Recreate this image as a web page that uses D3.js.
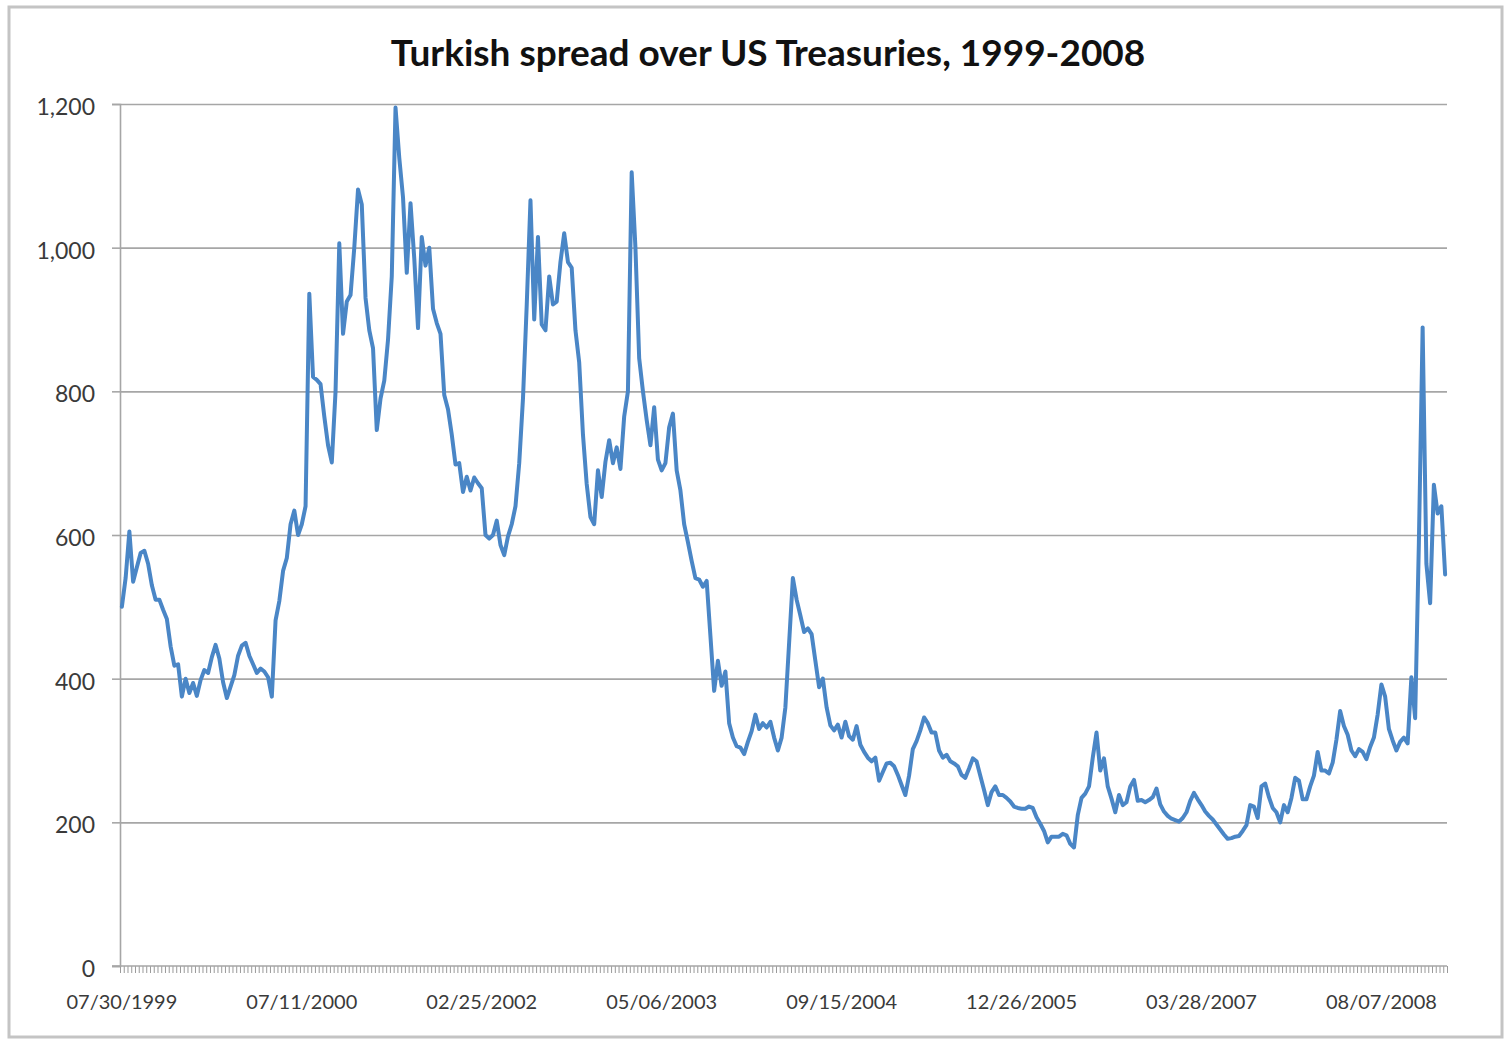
<!DOCTYPE html>
<html>
<head>
<meta charset="utf-8">
<script src="https://cdnjs.cloudflare.com/ajax/libs/d3/7.8.5/d3.min.js"></script>
<style>
  html, body { margin: 0; padding: 0; background: #ffffff; }
  svg { display: block; }
</style>
</head>
<body>
<svg id="chart" width="1512" height="1040"></svg>
<script>
// Chart title
const chartTitle = "Turkish spread over US Treasuries, 1999-2008";

// Category-axis labels, one every `labelEvery` observations
const dateLabels = ["07/30/1999", "07/11/2000", "02/25/2002", "05/06/2003",
                    "09/15/2004", "12/26/2005", "03/28/2007", "08/07/2008"];
const labelEvery = 48;

// Y-axis ticks (basis points)
const yTicks = [0, 200, 400, 600, 800, 1000, 1200];

// Spread over US Treasuries, basis points, in observation order
const spread = [
  500, 540, 605, 535, 555, 575, 578, 560, 530, 510,
  510, 496, 483, 445, 418, 420, 375, 400, 380, 394,
  376, 398, 412, 408, 430, 447, 428, 395, 373, 389,
  405, 432, 446, 450, 432, 420, 408, 414, 410, 402,
  375, 481, 508, 550, 568, 615, 634, 600, 615, 640,
  936, 820, 816, 810, 765, 725, 701, 800, 1006, 880,
  925, 934, 1000, 1081, 1060, 930, 885, 860, 746, 790,
  815, 872, 960, 1195, 1125, 1070, 965, 1062, 985, 888,
  1015, 975, 1000, 915, 895, 880, 795, 775, 740, 698,
  700, 660, 681, 662, 680, 672, 665, 600, 595, 600,
  620, 586, 572, 598, 615, 640, 700, 790, 920, 1066,
  900, 1015, 893, 885, 960, 921, 925, 980, 1020, 980,
  972, 885, 840, 740, 671, 625, 615, 690, 653, 702,
  732, 700, 722, 692, 765, 800, 1105, 1000, 846, 800,
  760, 725, 778, 705, 690, 700, 750, 769, 690, 662,
  615, 590, 564, 540, 538, 528, 536, 460, 383, 425,
  390, 410, 338, 318, 306, 304, 295, 312, 327, 350,
  330, 338, 332, 340, 318, 300, 318, 360, 450, 540,
  510, 488, 465, 470, 462, 425, 388, 400, 360, 335,
  328, 336, 318, 340, 320, 315, 334, 308, 298, 290,
  285, 290, 258, 270, 282, 283, 278, 266, 252, 238,
  265, 302, 313, 328, 346, 338, 325, 325, 300, 290,
  294, 285, 282, 278, 266, 262, 275, 289, 285, 265,
  245, 224, 242, 250, 238, 238, 234, 229, 222, 220,
  219, 219, 222, 220, 207, 198, 188, 172, 180, 180,
  180, 184, 182, 170, 165, 210, 234, 240, 250, 290,
  325, 272, 289, 250, 233, 214, 238, 224, 228, 250,
  259, 230, 231, 228, 231, 235, 247, 225, 215, 209,
  205, 203, 201, 206, 214, 230, 241, 232, 224, 215,
  209, 204, 197, 190, 183, 177, 178, 180, 181, 188,
  196, 224, 222, 206, 250, 254, 235, 220, 214, 200,
  224, 214, 234, 262, 258, 232, 232, 250, 265, 298,
  272, 272, 268, 283, 315, 355, 334, 322, 300, 292,
  302, 298, 288, 305, 318, 350, 392, 375, 330, 314,
  300, 312, 318, 310, 402, 345, 590, 889, 560, 505,
  670, 630, 640, 545
];

const svg = d3.select("#chart");
const plot = { left: 120, right: 1447, top: 104, bottom: 966 };
const font = "Lato, 'Open Sans', sans-serif";
const textColor = "#3a3a3a";
const gridColor = "#a6a6a6";

// Outer chart frame
svg.append("rect")
  .attr("x", 9).attr("y", 7)
  .attr("width", 1493).attr("height", 1030)
  .attr("fill", "#ffffff")
  .attr("stroke", "#c4c4c4")
  .attr("stroke-width", 3);

// Title
svg.append("text")
  .attr("x", 768).attr("y", 66)
  .attr("text-anchor", "middle")
  .attr("font-family", font)
  .attr("font-weight", 700)
  .attr("font-size", 37)
  .attr("fill", "#111111")
  .text(chartTitle);

// Scales
const n = spread.length;
const x = d3.scaleBand()
  .domain(d3.range(n))
  .range([plot.left, plot.right])
  .paddingInner(0).paddingOuter(0);
const xEdge = d3.scaleLinear().domain([0, n]).range([plot.left, plot.right]);
const y = d3.scaleLinear().domain([0, 1200]).range([plot.bottom, plot.top]);

// Horizontal gridlines
svg.append("g")
  .attr("class", "grid")
  .attr("transform", `translate(${plot.left},0)`)
  .call(d3.axisLeft(y).tickValues(yTicks.filter(v => v > 0))
    .tickSize(-(plot.right - plot.left)).tickFormat(""))
  .call(g => g.select(".domain").remove())
  .call(g => g.selectAll("line").attr("stroke", gridColor).attr("stroke-width", 1.6));

// Y axis with labels
svg.append("g")
  .attr("transform", `translate(${plot.left},0)`)
  .call(d3.axisLeft(y).tickValues(yTicks).tickSize(8).tickPadding(17)
    .tickFormat(d3.format(",")))
  .call(g => g.select(".domain").attr("stroke", gridColor).attr("stroke-width", 1.6))
  .call(g => g.selectAll("line").attr("stroke", gridColor).attr("stroke-width", 1.6))
  .call(g => g.selectAll("text")
    .attr("font-family", font).attr("font-size", 23).attr("fill", textColor)
    .attr("dy", "0.45em"));

// X axis: minor tick at every category boundary
svg.append("g")
  .attr("transform", `translate(0,${plot.bottom})`)
  .call(d3.axisBottom(xEdge).tickValues(d3.range(0, n + 1)).tickSize(7).tickFormat(""))
  .call(g => g.select(".domain").remove())
  .call(g => g.selectAll("line").attr("stroke", "#9a9a9a").attr("stroke-width", 1));

// X axis line
svg.append("line")
  .attr("x1", plot.left - 8).attr("x2", plot.right)
  .attr("y1", plot.bottom).attr("y2", plot.bottom)
  .attr("stroke", gridColor).attr("stroke-width", 1.6);

// X axis date labels
svg.append("g")
  .attr("transform", `translate(0,${plot.bottom})`)
  .call(d3.axisBottom(x)
    .tickValues(dateLabels.map((_, k) => k * labelEvery))
    .tickSize(0).tickPadding(29)
    .tickFormat((d, k) => dateLabels[k]))
  .call(g => g.select(".domain").remove())
  .call(g => g.selectAll("text")
    .attr("font-family", font).attr("font-size", 20).attr("fill", textColor));

// Spread line
const line = d3.line()
  .x((d, i) => x(i) + x.bandwidth() / 2)
  .y(d => y(d))
  .curve(d3.curveLinear);

svg.append("path")
  .datum(spread)
  .attr("d", line)
  .attr("fill", "none")
  .attr("stroke", "#4a86c6")
  .attr("stroke-width", 4)
  .attr("stroke-linejoin", "round")
  .attr("stroke-linecap", "round");
</script>
</body>
</html>
